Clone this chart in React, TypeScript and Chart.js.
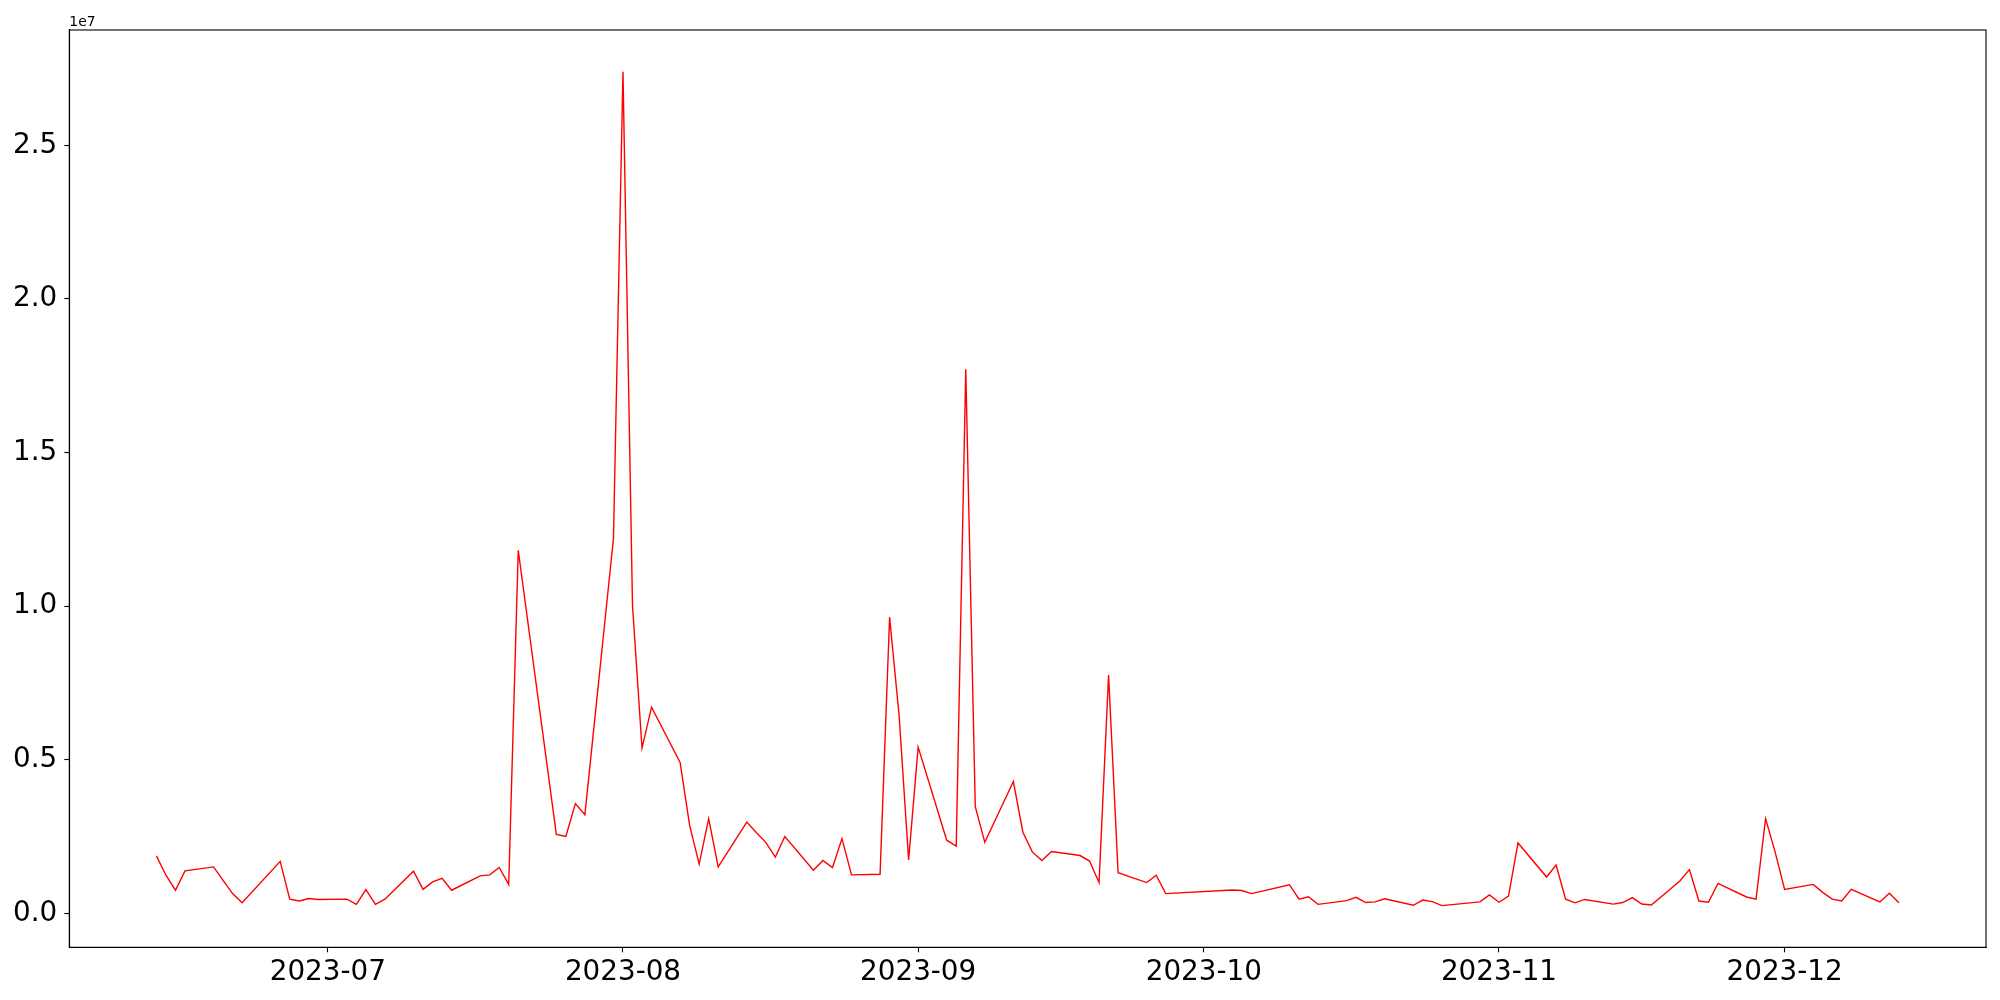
import { useEffect, useRef } from "react";
import { Chart, registerables } from "chart.js";

Chart.register(...registerables);

const dates: string[] = [
  "2023-06-13", "2023-06-14", "2023-06-15", "2023-06-16", "2023-06-19", "2023-06-20", "2023-06-21", "2023-06-22",
  "2023-06-26", "2023-06-27", "2023-06-28", "2023-06-29", "2023-06-30",
  "2023-07-03", "2023-07-04", "2023-07-05", "2023-07-06", "2023-07-07", "2023-07-10", "2023-07-11", "2023-07-12",
  "2023-07-13", "2023-07-14", "2023-07-17", "2023-07-18", "2023-07-19", "2023-07-20", "2023-07-21", "2023-07-25",
  "2023-07-26", "2023-07-27", "2023-07-28", "2023-07-31",
  "2023-08-01", "2023-08-02", "2023-08-03", "2023-08-04", "2023-08-07", "2023-08-08", "2023-08-09", "2023-08-10",
  "2023-08-11", "2023-08-14", "2023-08-15", "2023-08-16", "2023-08-17", "2023-08-18", "2023-08-21", "2023-08-22",
  "2023-08-23", "2023-08-24", "2023-08-25", "2023-08-28", "2023-08-29", "2023-08-30", "2023-08-31",
  "2023-09-01", "2023-09-04", "2023-09-05", "2023-09-06", "2023-09-07", "2023-09-08", "2023-09-11", "2023-09-12",
  "2023-09-13", "2023-09-14", "2023-09-15", "2023-09-18", "2023-09-19", "2023-09-20", "2023-09-21", "2023-09-22",
  "2023-09-25", "2023-09-26", "2023-09-27",
  "2023-10-04", "2023-10-05", "2023-10-06", "2023-10-10", "2023-10-11", "2023-10-12", "2023-10-13", "2023-10-16",
  "2023-10-17", "2023-10-18", "2023-10-19", "2023-10-20", "2023-10-23", "2023-10-24", "2023-10-25", "2023-10-26",
  "2023-10-30", "2023-10-31",
  "2023-11-01", "2023-11-02", "2023-11-03", "2023-11-06", "2023-11-07", "2023-11-08", "2023-11-09", "2023-11-10",
  "2023-11-13", "2023-11-14", "2023-11-15", "2023-11-16", "2023-11-17", "2023-11-20", "2023-11-21", "2023-11-22",
  "2023-11-23", "2023-11-24", "2023-11-27", "2023-11-28", "2023-11-29", "2023-11-30",
  "2023-12-01", "2023-12-04", "2023-12-05", "2023-12-06", "2023-12-07", "2023-12-08", "2023-12-11", "2023-12-12",
  "2023-12-13",
];

const values: number[] = [
  1.87e6, 1.24e6, 0.75e6, 1.38e6, 1.51e6, 1.07e6, 0.64e6, 0.34e6,
  1.69e6, 0.46e6, 0.40e6, 0.48e6, 0.45e6,
  0.46e6, 0.29e6, 0.77e6, 0.29e6, 0.46e6, 1.37e6, 0.78e6, 1.02e6,
  1.14e6, 0.75e6, 1.22e6, 1.25e6, 1.49e6, 0.94e6, 11.82e6, 2.57e6,
  2.50e6, 3.57e6, 3.21e6, 12.2e6,
  27.4e6, 10.02e6, 5.38e6, 6.71e6, 4.91e6, 2.86e6, 1.60e6, 3.08e6,
  1.51e6, 2.97e6, 2.63e6, 2.31e6, 1.83e6, 2.50e6, 1.40e6, 1.72e6,
  1.49e6, 2.43e6, 1.25e6, 1.27e6, 9.64e6, 6.44e6, 1.74e6,
  5.41e6, 2.38e6, 2.19e6, 17.71e6, 3.47e6, 2.31e6, 4.29e6, 2.64e6,
  1.99e6, 1.72e6, 2.01e6, 1.88e6, 1.70e6, 1.0e6, 7.76e6, 1.32e6,
  1.0e6, 1.24e6, 0.64e6,
  0.76e6, 0.74e6, 0.64e6, 0.93e6, 0.46e6, 0.54e6, 0.29e6, 0.41e6,
  0.52e6, 0.35e6, 0.37e6, 0.47e6, 0.26e6, 0.43e6, 0.38e6, 0.25e6,
  0.37e6, 0.60e6,
  0.36e6, 0.56e6, 2.29e6, 1.18e6, 1.57e6, 0.46e6, 0.34e6, 0.45e6,
  0.30e6, 0.35e6, 0.51e6, 0.30e6, 0.27e6, 1.05e6, 1.42e6, 0.40e6,
  0.36e6, 0.97e6, 0.53e6, 0.46e6, 3.08e6, 2.0e6,
  0.78e6, 0.94e6, 0.68e6, 0.46e6, 0.40e6, 0.78e6, 0.37e6, 0.65e6,
  0.34e6,
];

const xTickDates: string[] = ["2023-07-01", "2023-08-01", "2023-09-01", "2023-10-01", "2023-11-01", "2023-12-01"];
const yTickValues: number[] = [0, 0.5e7, 1.0e7, 1.5e7, 2.0e7, 2.5e7];
const offsetText = "1e7";

const toMs = (s: string) => {
  const [y, m, d] = s.split("-").map(Number);
  return Date.UTC(y, m - 1, d);
};

const fmtMonth = (v: number) => {
  const d = new Date(v);
  return `${d.getUTCFullYear()}-${String(d.getUTCMonth() + 1).padStart(2, "0")}`;
};

const FONT = "DejaVu Sans";

export default function App() {
  const ref = useRef<HTMLCanvasElement | null>(null);

  useEffect(() => {
    if (!ref.current) return;
    const xs = dates.map(toMs);
    const xMinD = Math.min(...xs);
    const xMaxD = Math.max(...xs);
    const xPad = (xMaxD - xMinD) * 0.05;
    const yMinD = Math.min(...values);
    const yMaxD = Math.max(...values);
    const yPad = (yMaxD - yMinD) * 0.05;

    const framePlugin = {
      id: "frame",
      afterDraw(chart: any) {
        const { ctx, chartArea } = chart;
        ctx.save();
        ctx.strokeStyle = "#000";
        ctx.lineWidth = 1.1;
        ctx.strokeRect(chartArea.left, chartArea.top, chartArea.right - chartArea.left, chartArea.bottom - chartArea.top);
        ctx.fillStyle = "#000";
        ctx.font = `13.9px "${FONT}"`;
        ctx.textAlign = "left";
        ctx.textBaseline = "alphabetic";
        ctx.fillText(offsetText, chartArea.left, chartArea.top - 4);
        ctx.restore();
      },
    };

    const chart = new Chart(ref.current, {
      type: "line",
      data: {
        datasets: [
          {
            data: xs.map((x, i) => ({ x, y: values[i] })),
            borderColor: "#ff0000",
            borderWidth: 1.4,
            pointRadius: 0,
            tension: 0,
            fill: false,
          },
        ],
      },
      options: {
        responsive: false,
        animation: false,
        devicePixelRatio: 1,
        layout: { padding: { top: 30, right: 14, left: 0, bottom: 0 } },
        plugins: { legend: { display: false }, tooltip: { enabled: false } },
        scales: {
          x: {
            type: "linear",
            min: xMinD - xPad,
            max: xMaxD + xPad,
            afterBuildTicks: (s: any) => {
              s.ticks = xTickDates.map((d) => ({ value: toMs(d) }));
            },
            afterFit: (s: any) => {
              s.height = 52.7;
            },
            grid: { drawOnChartArea: false, drawTicks: true, tickLength: 5, tickColor: "#000", tickWidth: 1.1 },
            border: { display: true, color: "#000", width: 1.1 },
            ticks: {
              color: "#000",
              font: { family: FONT, size: 27.8 },
              padding: 4,
              maxRotation: 0,
              autoSkip: false,
              callback: (v: any) => fmtMonth(Number(v)),
            },
          },
          y: {
            type: "linear",
            min: yMinD - yPad,
            max: yMaxD + yPad,
            afterBuildTicks: (s: any) => {
              s.ticks = yTickValues.map((v) => ({ value: v }));
            },
            afterFit: (s: any) => {
              s.width = 69.3;
            },
            grid: { drawOnChartArea: false, drawTicks: true, tickLength: 5, tickColor: "#000", tickWidth: 1.1 },
            border: { display: true, color: "#000", width: 1.1 },
            ticks: {
              color: "#000",
              font: { family: FONT, size: 27.8 },
              padding: 7,
              autoSkip: false,
              callback: (v: any) => (Number(v) / 1e7).toFixed(1),
            },
          },
        },
      },
      plugins: [framePlugin],
    });
    return () => chart.destroy();
  }, []);

  return (
    <div style={{ position: "absolute", left: 0, top: 0, width: 2000, height: 1000, background: "#fff" }}>
      <canvas ref={ref} width={2000} height={1000} style={{ width: 2000, height: 1000, display: "block" }} />
    </div>
  );
}
